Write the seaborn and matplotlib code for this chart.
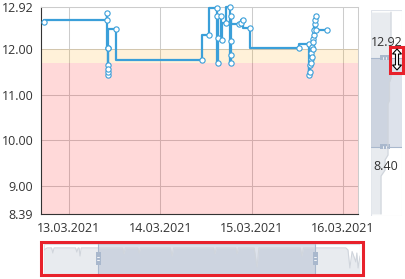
import matplotlib
matplotlib.use("Agg")
import matplotlib.pyplot as plt
import matplotlib.dates as mdates
from matplotlib.patches import Rectangle, Polygon
import pandas as pd
import seaborn as sns

# ---------------- data ----------------
times = [
    "2021-03-12 17:26", "2021-03-13 09:59", "2021-03-13 10:07", "2021-03-13 10:10",
    "2021-03-13 10:13", "2021-03-13 10:15", "2021-03-13 10:16", "2021-03-13 10:18",
    "2021-03-13 10:20", "2021-03-13 12:16", "2021-03-14 10:52", "2021-03-14 12:55",
    "2021-03-14 14:53", "2021-03-14 15:01", "2021-03-14 15:06", "2021-03-14 15:09",
    "2021-03-14 16:04", "2021-03-14 16:12", "2021-03-14 17:15", "2021-03-14 18:26",
    "2021-03-14 18:30", "2021-03-14 18:31", "2021-03-14 18:33", "2021-03-14 18:34",
    "2021-03-14 20:48", "2021-03-14 21:12", "2021-03-14 21:43", "2021-03-14 23:42",
    "2021-03-15 12:22", "2021-03-15 15:09", "2021-03-15 15:12", "2021-03-15 15:20",
    "2021-03-15 15:25", "2021-03-15 15:32", "2021-03-15 15:36", "2021-03-15 15:43",
    "2021-03-15 15:51", "2021-03-15 15:56", "2021-03-15 16:01", "2021-03-15 16:07",
    "2021-03-15 16:12", "2021-03-15 16:20", "2021-03-15 16:28", "2021-03-15 16:32",
    "2021-03-15 16:39", "2021-03-15 16:48", "2021-03-15 16:54", "2021-03-15 19:53",
]
values = [
    12.59, 12.63, 12.79, 12.02,
    11.43, 11.65, 11.50, 11.56,
    12.02, 12.43, 11.76, 12.30,
    12.90, 12.72, 11.69, 12.25,
    12.72, 12.20, 12.56, 12.91,
    11.69, 11.87, 12.18, 12.72,
    12.55, 12.57, 12.63, 12.47,
    12.02, 12.12, 11.43, 11.65,
    11.50, 11.78, 11.69, 11.92,
    11.83, 12.05, 11.99, 12.21,
    12.16, 12.31, 12.42, 12.55,
    12.63, 12.72, 12.42, 12.42,
]

y_ticks = [8.39, 9.00, 10.00, 11.00, 12.00, 12.92]
x_ticks = ["2021-03-13", "2021-03-14", "2021-03-15", "2021-03-16"]
x_range = ["2021-03-12 16:39", "2021-03-16 03:57"]
warn_band = [11.70, 12.00]
alarm_band = [8.39, 11.70]
zoom_labels = ["12.92", "8.40"]

# overview (data shadow) of the horizontal slider, fraction of slider box
nav_x = [0.000, 0.010, 0.024, 0.028, 0.032, 0.100, 0.104, 0.108, 0.111, 0.114,
         0.118, 0.249, 0.253, 0.257, 0.297, 0.301, 0.305, 0.400, 0.405, 0.410,
         0.537, 0.541, 0.545, 0.607, 0.611, 0.615, 0.665, 0.674, 0.680, 0.811,
         0.816, 0.821, 0.955, 0.962, 0.968, 0.975, 0.987, 0.990, 0.994, 1.000]
nav_y = [0.80, 0.87, 0.87, 0.70, 0.87, 0.87, 0.73, 0.87, 0.87, 0.60,
         0.87, 0.87, 0.67, 0.87, 0.87, 0.70, 0.87, 0.87, 0.60, 0.87,
         0.87, 0.67, 0.87, 0.87, 0.67, 0.87, 0.87, 0.23, 0.87, 0.87,
         0.60, 0.87, 0.87, 0.80, 0.20, 0.75, 0.40, 0.70, 0.20, 0.60]
nav_window = [0.171, 0.858]

# overview of the vertical slider
vnav_x = [0.645, 0.645, 0.597, 0.597, 0.548, 0.548, 0.452, 0.452, 0.323, 0.323]
vnav_y = [0.990, 0.670, 0.650, 0.563, 0.544, 0.296, 0.272, 0.223, 0.194, 0.010]
vnav_window = [0.335, 0.767]

# ---------------- style ----------------
BLUE = "#3a9fd9"
TXT = "#333333"
GRID = "#cccccc"
sns.set_style("white")
plt.rcParams["font.family"] = ["Open Sans", "DejaVu Sans"]

W, H, DPI = 406, 279, 100
fig = plt.figure(figsize=(W / DPI, H / DPI), dpi=DPI)
fig.patch.set_facecolor("white")


def px_axes(x0, y0, x1, y1):
    return fig.add_axes([x0 / W, 1 - y1 / H, (x1 - x0) / W, (y1 - y0) / H])


def fx(px):
    return px / W


def fy(py):
    return 1 - py / H


# ---------------- main chart ----------------
ax = px_axes(41, 7, 358, 214)
df = pd.DataFrame({"time": pd.to_datetime(times), "value": values})

ax.set_axisbelow(True)
ax.grid(True, color=GRID, lw=0.75)
ax.axhspan(warn_band[0], warn_band[1], color="#ffa500", alpha=0.15, lw=0, zorder=1)
ax.axhspan(alarm_band[0], alarm_band[1], color="#ff0000", alpha=0.15, lw=0, zorder=1)

sns.lineplot(data=df, x="time", y="value", ax=ax, drawstyle="steps-pre",
             color=BLUE, linewidth=1.6, marker="o", markersize=3.8,
             markerfacecolor="white", markeredgecolor=BLUE, markeredgewidth=0.8,
             estimator=None, sort=False, zorder=3, clip_on=False)

ax.set_xlim(pd.Timestamp(x_range[0]), pd.Timestamp(x_range[1]))
ax.set_ylim(y_ticks[0], y_ticks[-1])
ax.set_yticks(y_ticks)
ax.set_yticklabels([f"{v:.2f}" for v in y_ticks])
ax.set_xticks(pd.to_datetime(x_ticks))
ax.xaxis.set_major_formatter(mdates.DateFormatter("%d.%m.%Y"))
ax.set_xlabel("")
ax.set_ylabel("")
ax.tick_params(axis="both", direction="out", length=3.6, width=0.75,
               color=TXT, labelcolor=TXT, labelsize=9, pad=2)
for s in ("left", "bottom"):
    ax.spines[s].set_color(TXT)
    ax.spines[s].set_linewidth(0.8)
for s in ("top", "right"):
    ax.spines[s].set_color(GRID)
    ax.spines[s].set_linewidth(0.75)
if ax.get_legend():
    ax.get_legend().remove()

# ---------------- horizontal slider ----------------
SEL = (0.59, 0.65, 0.76)
HANDLE = "#a9b8cd"
bx = px_axes(44, 244, 360, 274)
bx.set_xlim(0, 1)
bx.set_ylim(0, 1)
bx.axis("off")
bx.add_patch(Rectangle((0, 0), 1, 1, facecolor="white", edgecolor="#dfe3ea", lw=0.8))
bx.fill_between(nav_x, 0, nav_y, color="#e8ebef", lw=0)
bx.plot(nav_x, nav_y, color="#d0d5dc", lw=0.8)
bx.add_patch(Rectangle((nav_window[0], 0), nav_window[1] - nav_window[0], 1,
                       facecolor=SEL, alpha=0.32, lw=0))
hw = 5 / 316
for s in nav_window:
    bx.axvline(s, color=HANDLE, lw=0.8)
    bx.add_patch(Rectangle((s - hw / 2, 0.30), hw, 0.44, facecolor=HANDLE, lw=0))
    for yy in (0.46, 0.58):
        bx.plot([s - hw / 4, s + hw / 4], [yy, yy], color="white", lw=0.6)

# ---------------- vertical slider ----------------
vx = px_axes(371, 10, 402, 216)
vx.set_xlim(0, 1)
vx.set_ylim(0, 1)
vx.axis("off")
vx.add_patch(Rectangle((0, 0), 1, 1, facecolor="white", edgecolor="#dfe3ea", lw=0.8))
vx.fill_betweenx(vnav_y, 0, vnav_x, color="#e8ebef", lw=0)
vx.plot(vnav_x, vnav_y, color="#d0d5dc", lw=0.8)
vx.add_patch(Rectangle((0, vnav_window[0]), 1, vnav_window[1] - vnav_window[0],
                       facecolor=SEL, alpha=0.32, lw=0))
hh = 5 / 206
for s in vnav_window:
    vx.axhline(s, color=HANDLE, lw=0.8)
    vx.add_patch(Rectangle((0.28, s - hh / 2), 0.32, hh, facecolor=HANDLE, lw=0))
    for xx in (0.40, 0.48):
        vx.plot([xx, xx], [s - hh / 4, s + hh / 4], color="white", lw=0.6)

fig.text(fx(387), fy(42), zoom_labels[0], ha="center", va="center", fontsize=9, color=TXT)
fig.text(fx(386), fy(166), zoom_labels[1], ha="center", va="center", fontsize=9, color=TXT)

# ---------------- highlight boxes ----------------
RED = "#e8212b"
fig.add_artist(Rectangle((fx(41), fy(275)), (363 - 41) / W, (275 - 242) / H,
                         transform=fig.transFigure, fill=False, ec=RED, lw=2.2))
fig.add_artist(Rectangle((fx(390.5), fy(72.5)), (403.5 - 390.5) / W, (72.5 - 46.5) / H,
                         transform=fig.transFigure, fill=False, ec=RED, lw=2.2))
cur = [(397, 49), (401.5, 54), (398.5, 54), (398.5, 65), (401.5, 65), (397, 70),
       (392.5, 65), (395.5, 65), (395.5, 54), (392.5, 54)]
fig.add_artist(Polygon([(fx(a), fy(b)) for a, b in cur], closed=True,
                       transform=fig.transFigure, facecolor="white",
                       edgecolor="black", lw=0.8))

fig.savefig("out.png", dpi=DPI, facecolor="white")
